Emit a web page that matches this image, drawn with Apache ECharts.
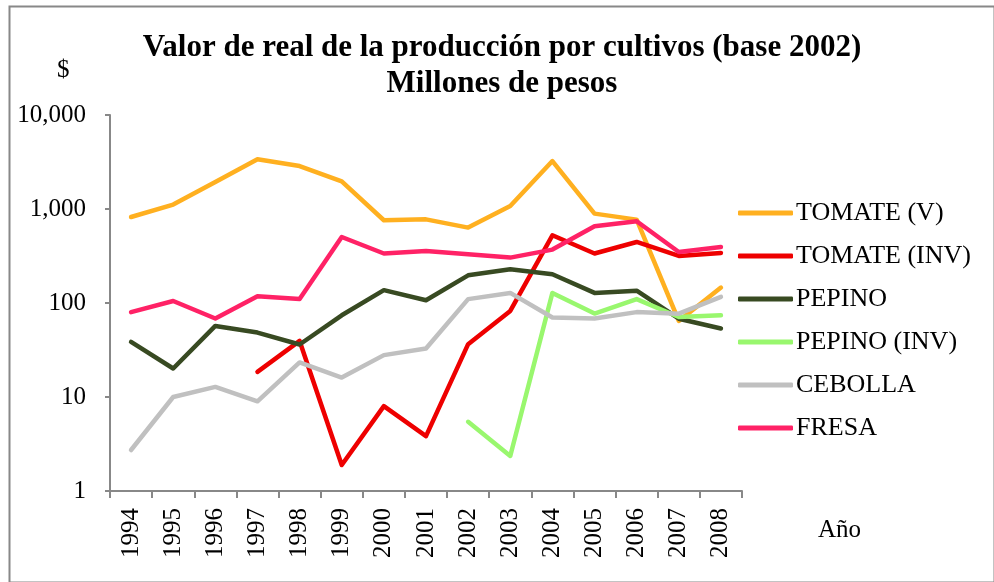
<!DOCTYPE html>
<html>
<head>
<meta charset="utf-8">
<script src="https://cdn.jsdelivr.net/npm/echarts@6/dist/echarts.min.js"></script>
<style>
	html, body { margin: 0; padding: 0; background: #fff; }
	#chart_div { width: 994px; height: 582px; }
</style>
</head>
<body>
<div id="chart_div"></div>
<script>
// datos (millones de pesos, base 2002)
var years = ['1994', '1995', '1996', '1997', '1998', '1999', '2000', '2001', '2002', '2003', '2004', '2005', '2006', '2007', '2008'];
var tomateV = [822, 1114, 1936, 3375, 2864, 1969, 759, 776, 634, 1076, 3236, 893, 771, 64.5, 146];
var tomateInv = [null, null, null, 18.5, 39.5, 1.89, 8.0, 3.84, 36.5, 82.4, 525, 336, 446, 317, 341];
var pepino = [38.6, 20.1, 57, 48.5, 36.2, 74, 137, 107, 197, 229, 202, 128, 135, 68, 53.6];
var pepinoInv = [null, null, null, null, null, null, null, null, 5.45, 2.36, 128, 77.3, 110, 71, 74];
var cebolla = [2.73, 10, 12.8, 9.0, 23.3, 16.1, 27.9, 32.8, 110, 128, 70, 68.4, 80, 77, 116];
var fresa = [80, 105, 68.4, 118, 110, 504, 336, 358, 330, 304, 370, 655, 740, 349, 395];

var serieNames = ['TOMATE (V)', 'TOMATE (INV)', 'PEPINO', 'PEPINO (INV)', 'CEBOLLA', 'FRESA'];
var serieData = [tomateV, tomateInv, pepino, pepinoInv, cebolla, fresa];
var serieColors = ['#FFB020', '#EE0000', '#384A22', '#99F76E', '#C0C0C0', '#FF2266'];

var fuente = "'Liberation Serif', 'Times New Roman', serif";

function createChart() {
	var myChart = echarts.init(document.getElementById('chart_div'));

	var series = [];
	for (var i = 0; i < serieNames.length; i++) {
		series.push({
			name: serieNames[i],
			type: 'line',
			data: serieData[i],
			symbol: 'none',
			connectNulls: false,
			color: serieColors[i],
			lineStyle: { width: 4.5, color: serieColors[i], cap: 'round', join: 'round' }
		});
	}

	var option = {
		backgroundColor: '#fff',
		animation: false,
		title: {
			text: 'Valor de real de la producción por cultivos (base 2002)\nMillones de pesos',
			left: 497,
			textAlign: 'center',
			top: 25,
			textStyle: { fontFamily: fuente, fontWeight: 'bold', fontSize: 31, lineHeight: 36, color: '#000' }
		},
		legend: {
			orient: 'vertical',
			left: 733,
			top: 195,
			icon: 'roundRect',
			itemWidth: 55,
			itemHeight: 5,
			itemGap: 17,
			data: serieNames,
			textStyle: { fontFamily: fuente, fontSize: 26, color: '#000', padding: [0, 0, 0, -2] }
		},
		grid: { left: 110, right: 252, top: 115, bottom: 91, containLabel: false },
		xAxis: {
			type: 'category',
			data: years,
			boundaryGap: true,
			axisLine: { lineStyle: { color: '#888', width: 2 } },
			axisTick: { show: true, length: 7, lineStyle: { color: '#888', width: 2 } },
			axisLabel: { rotate: 90, margin: 17, fontFamily: fuente, fontSize: 25, color: '#000' }
		},
		yAxis: {
			type: 'log',
			logBase: 10,
			min: 1,
			max: 10000,
			splitLine: { show: false },
			axisLine: { show: true, lineStyle: { color: '#888', width: 2 } },
			axisTick: { show: true, length: 5, lineStyle: { color: '#888', width: 2 } },
			axisLabel: {
				margin: 24,
				fontFamily: fuente,
				fontSize: 25,
				color: '#000',
				formatter: function (v) { return Math.round(v).toLocaleString('en-US'); }
			}
		},
		graphic: [
			{ type: 'rect', left: 7, top: 4, shape: { width: 985, height: 576 }, style: { fill: null, stroke: '#888', lineWidth: 2 } },
			{ type: 'text', left: 57, top: 58, style: { text: '$', font: '25px ' + fuente, fill: '#000' } },
			{ type: 'text', left: 818, top: 518, style: { text: 'Año', font: '25px ' + fuente, fill: '#000' } }
		],
		series: series
	};

	myChart.setOption(option);
}

createChart();
</script>
</body>
</html>
